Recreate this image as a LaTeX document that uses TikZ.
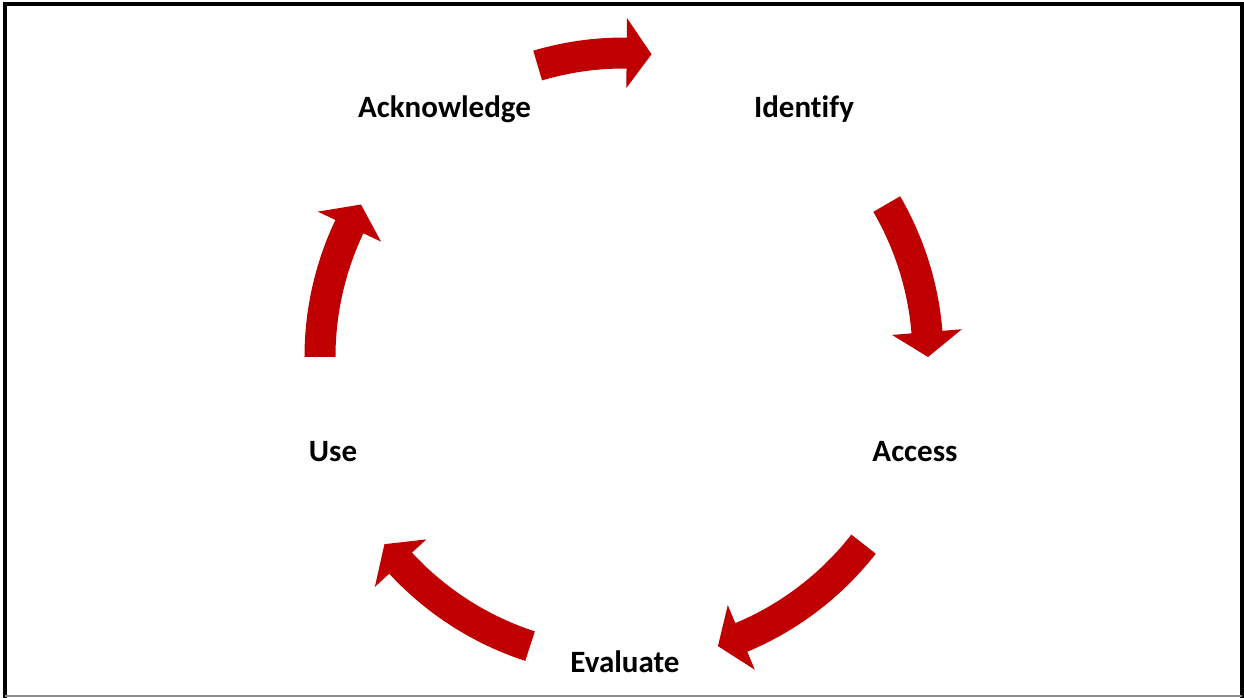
\documentclass[tikz,border=0pt]{standalone}
\usepackage{fontspec}
\setmainfont{Carlito}[Ligatures=NoCommon]
\definecolor{arrowred}{HTML}{C00000}
\tikzset{
  lbl/.style={anchor=base, font=\fontsize{31pt}{37pt}\selectfont\bfseries, text=black, inner sep=0pt},
  pics/cyclearrow/.style 2 args={code={
    \pgfmathsetmacro\hbang{#2+4.7}
    \fill[arrowred] (#1:319.5pt) arc[start angle=#1, end angle=\hbang, radius=319.5pt]
      -- (\hbang:339pt) -- (#2:304pt) -- (\hbang:269pt) -- (\hbang:288.5pt)
      arc[start angle=\hbang, end angle=#1, radius=288.5pt] -- cycle;
  }}
}
\begin{document}
\begin{tikzpicture}[x=1pt,y=1pt]
\useasboundingbox (-624,-341) rectangle (620,357);
\fill[white] (-624,-341) rectangle (620,357);
% frame
\draw[line width=4pt, line cap=rect] (-619,-339) -- (-619,353) -- (617.5,353) -- (617.5,-339);
\draw[line width=1.2pt, black!45] (-619,-339) -- (617.5,-339);
% labels
\node[lbl] (ack) at (-179.5,239) {Acknowledge};
\node[lbl] (ide) at (180,239) {Identify};
\node[lbl] (acc) at (291,-105) {Access};
\node[lbl] (eva) at (1,-315) {Evaluate};
\node[lbl] (use) at (-291,-105) {Use};
% arrows
\pic (a1) at (0,0) {cyclearrow={106.5}{84.8}};
\pic (a2) at (0,0) {cyclearrow={30.2}{0}};
\pic (a3) at (0,0) {cyclearrow={-38}{-72}};
\pic (a4) at (0,0) {cyclearrow={-108}{-142}};
\pic (a5) at (0,0) {cyclearrow={180}{149.9}};
\end{tikzpicture}
\end{document}
